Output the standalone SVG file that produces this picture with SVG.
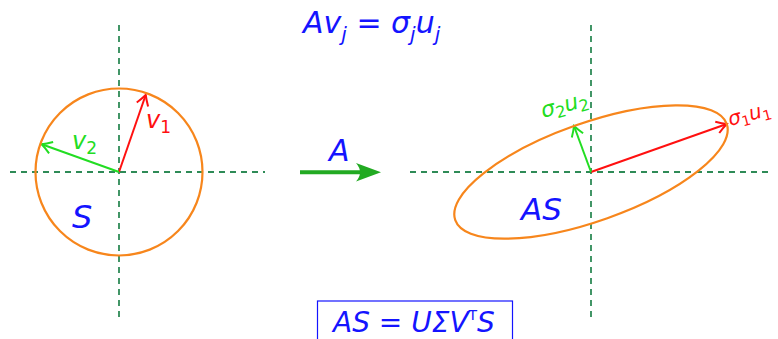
<svg xmlns="http://www.w3.org/2000/svg" width="778" height="339" viewBox="0 0 778 339">
<style>
.axis{stroke:#2e8b57;stroke-width:1.8;stroke-dasharray:6 5;fill:none}
.shape{stroke:#f7861c;stroke-width:2.2;fill:none}
.m{font-family:"DejaVu Sans","Liberation Sans",sans-serif;font-style:italic}
.up{font-style:normal}
.blue{fill:#1414ff}
.red{fill:#ff1010}
.grn{fill:#22dd22}
</style>
<defs>
<marker id="hr" markerUnits="userSpaceOnUse" markerWidth="16" markerHeight="16" refX="12" refY="8" orient="auto" overflow="visible">
<path d="M2,2 Q8,6 12,8 Q8,10 2,14" fill="none" stroke="#ff1010" stroke-width="2"/>
</marker>
<marker id="hg" markerUnits="userSpaceOnUse" markerWidth="16" markerHeight="16" refX="12" refY="8" orient="auto" overflow="visible">
<path d="M2,2 Q8,6 12,8 Q8,10 2,14" fill="none" stroke="#22dd22" stroke-width="2"/>
</marker>
</defs>
<g id="title"><text class="m blue" x="303" y="33" font-size="30">Av<tspan font-size="20" dy="8">j</tspan><tspan class="up" dy="-8"> = </tspan>σ<tspan font-size="20" dy="8">j</tspan><tspan dy="-8">u</tspan><tspan font-size="20" dy="8">j</tspan></text></g>
<g id="connectors">
<line class="axis" x1="10" y1="172" x2="265" y2="172"/>
<line class="axis" x1="119" y1="25" x2="119" y2="318"/>
<line class="axis" x1="410" y1="172" x2="772" y2="172"/>
<line class="axis" x1="591" y1="25" x2="591" y2="318"/>
<line x1="119" y1="172" x2="145.7" y2="95" stroke="#ff1010" stroke-width="2" marker-end="url(#hr)"/>
<line x1="119" y1="172" x2="41.7" y2="144.3" stroke="#22dd22" stroke-width="2" marker-end="url(#hg)"/>
<line x1="591" y1="172" x2="726.7" y2="124" stroke="#ff1010" stroke-width="2" marker-end="url(#hr)"/>
<line x1="591" y1="172" x2="574" y2="126" stroke="#22dd22" stroke-width="2" marker-end="url(#hg)"/>
<line x1="300" y1="172.3" x2="364" y2="172.3" stroke="#22aa22" stroke-width="4"/>
<path d="M381,172.3 L356,163 Q364,172.3 356,181.6 Z" fill="#22aa22"/>
</g>
<g id="circleS">
<circle class="shape" cx="119" cy="172" r="83.5"/>
<text class="m blue" x="72" y="228" font-size="32">S</text>
<text class="m red" x="146" y="128" font-size="24">v<tspan class="up" font-size="17" dy="5">1</tspan></text>
<text class="m grn" x="72" y="149" font-size="24">v<tspan class="up" font-size="17" dy="5">2</tspan></text>
</g>
<g id="arrowA">
<text class="m blue" x="329" y="161" font-size="30">A</text>
</g>
<g id="ellipseAS">
<ellipse class="shape" cx="591" cy="172" rx="144" ry="49" transform="rotate(-19.5 591 172)"/>
<text class="m blue" x="521" y="220" font-size="31">AS</text>
<text class="m grn" transform="translate(543,118) rotate(-15)" font-size="22">σ<tspan class="up" font-size="16" dy="4">2</tspan><tspan dy="-4">u</tspan><tspan class="up" font-size="16" dy="4">2</tspan></text>
<text class="m red" transform="translate(730,126) rotate(-15)" font-size="20">σ<tspan class="up" font-size="14" dy="4">1</tspan><tspan dy="-4">u</tspan><tspan class="up" font-size="14" dy="4">1</tspan></text>
</g>
<g id="formulaBox">
<rect x="317.5" y="301" width="195" height="45" fill="none" stroke="#1414ff" stroke-width="1.2"/>
<text class="m blue" x="333" y="332" font-size="28">AS<tspan class="up"> = </tspan>UΣV<tspan class="up" font-size="14" dy="-12">T</tspan><tspan dy="12">S</tspan></text>
</g>
</svg>
